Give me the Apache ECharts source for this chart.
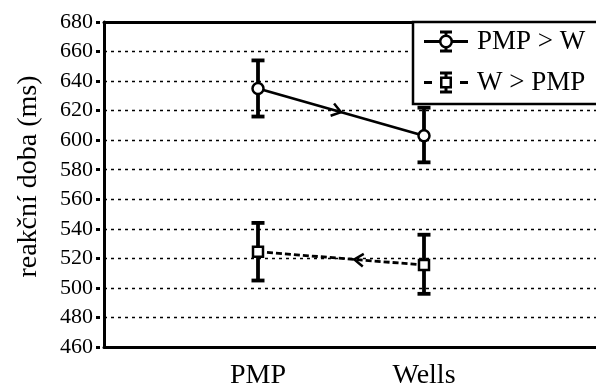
<!DOCTYPE html>
<html>
<head>
<meta charset="utf-8">
<script src="https://cdn.jsdelivr.net/npm/echarts@6/dist/echarts.min.js"></script>
<style>html,body{margin:0;padding:0;background:#fff}#c{width:596px;height:387px}</style>
</head>
<body>
<div id="c"></div>
<script>
// ---- data ----
var categories = ['PMP', 'Wells'];
var seriesNames = ['PMP > W', 'W > PMP'];
var pmpW = [635, 603];
var pmpWLow = [616, 585];
var pmpWHigh = [654, 622];
var wPmp = [524.5, 515.5];
var wPmpLow = [505, 496];
var wPmpHigh = [544, 536];
var yTicks = [460, 480, 500, 520, 540, 560, 580, 600, 620, 640, 660, 680];
var yTitle = 'reakční doba (ms)';

var FONT = 'Liberation Serif';
var catX = categories.map(function (c, i) { return i + 1; });

function pts(vals) { return vals.map(function (v, i) { return [catX[i], v]; }); }
function errs(lo, hi) { return lo.map(function (l, i) { return [catX[i], l, hi[i]]; }); }

var iconSolid = 'path://M0 9.5H16V12.5H0Z M28 9.5H44V12.5H28Z ' +
  'M15 11A7 7 0 1 1 29 11A7 7 0 1 1 15 11Z M17.5 11A4.5 4.5 0 1 0 26.5 11A4.5 4.5 0 1 0 17.5 11Z ' +
  'M16 0H28V3H16Z M20.5 2H23.5V4.5H20.5Z M16 19H28V22H16Z M20.5 17.5H23.5V20H20.5Z';
var iconDash = 'path://M0 9.5H8V12.5H0Z M36 9.5H44V12.5H36Z ' +
  'M16 5H28V17H16Z M18.5 7.5V14.5H25.5V7.5Z ' +
  'M16 0H28V3H16Z M20.5 2H23.5V5.5H20.5Z M16 19H28V22H16Z M20.5 16.5H23.5V20H20.5Z';

function errorBarRender(params, api) {
  var x = api.value(0);
  var lo = api.coord([x, api.value(1)]);
  var hi = api.coord([x, api.value(2)]);
  var hw = 6.5;
  var st = { stroke: '#000', lineWidth: 3.8, fill: null };
  return {
    type: 'group',
    children: [
      { type: 'line', shape: { x1: lo[0], y1: lo[1], x2: hi[0], y2: hi[1] }, style: st },
      { type: 'line', shape: { x1: hi[0] - hw, y1: hi[1], x2: hi[0] + hw, y2: hi[1] }, style: st },
      { type: 'line', shape: { x1: lo[0] - hw, y1: lo[1], x2: lo[0] + hw, y2: lo[1] }, style: st }
    ]
  };
}

function makeArrowRender(t) {
  return function (params, api) {
    var a = api.coord([api.value(0), api.value(1)]);
    var b = api.coord([api.value(2), api.value(3)]);
    var tip = [a[0] + (b[0] - a[0]) * t, a[1] + (b[1] - a[1]) * t];
    var dx = b[0] - a[0], dy = b[1] - a[1];
    var len = Math.sqrt(dx * dx + dy * dy);
    var ux = dx / len, uy = dy / len;
    var L = 11, ang = 35 * Math.PI / 180;
    function arm(s) {
      var c = Math.cos(s * ang), sn = Math.sin(s * ang);
      var rx = ux * c - uy * sn, ry = ux * sn + uy * c;
      return [tip[0] - rx * L, tip[1] - ry * L];
    }
    return {
      type: 'polyline',
      shape: { points: [arm(1), tip, arm(-1)] },
      style: { stroke: '#000', lineWidth: 2.5, fill: null }
    };
  };
}

var gridLeft = 104, gridWidth = 492;
var pxPerCat = 166;
var xMin = 1 - (258 - gridLeft) / pxPerCat;
var xMax = xMin + gridWidth / pxPerCat;

var chart = echarts.init(document.getElementById('c'), null, { renderer: 'canvas' });
chart.setOption({
  animation: false,
  backgroundColor: '#fff',
  textStyle: { fontFamily: FONT },
  grid: { left: gridLeft, top: 22, width: gridWidth, bottom: 40, containLabel: false, outerBoundsMode: 'none' },
  xAxis: [{
    type: 'value', min: xMin, max: xMax,
    axisLine: { lineStyle: { color: '#000', width: 3 } },
    axisTick: { show: false },
    splitLine: { show: false },
    axisLabel: {
      customValues: catX,
      formatter: function (v) { return categories[Math.round(v) - 1] || ''; },
      fontFamily: FONT, fontSize: 28, color: '#000', margin: 15
    }
  }, {
    type: 'value', min: xMin, max: xMax, position: 'top',
    axisLine: { lineStyle: { color: '#000', width: 3 } },
    axisTick: { show: false }, axisLabel: { show: false }, splitLine: { show: false }
  }],
  yAxis: {
    type: 'value', min: yTicks[0], max: yTicks[yTicks.length - 1], interval: 20,
    name: yTitle, nameLocation: 'middle', nameGap: 61,
    nameTextStyle: { fontFamily: FONT, fontSize: 28, color: '#000', padding: [0, 0, 0, 16] },
    axisLine: { show: true, lineStyle: { color: '#000', width: 3 } },
    axisTick: { show: true, length: 8, lineStyle: { color: '#000', width: 3, type: [4, 4], dashOffset: 4 } },
    axisLabel: { fontFamily: FONT, fontSize: 22, color: '#000', margin: 11 },
    splitLine: { show: true, lineStyle: { color: '#000', width: 1.3, type: [3, 4] } }
  },
  legend: {
    orient: 'vertical', left: 413, top: 22,
    backgroundColor: '#fff', borderColor: '#000', borderWidth: 2.5, borderRadius: 0,
    padding: [6, 60, 8, 11], itemGap: 14, itemWidth: 44, itemHeight: 24,
    textStyle: { fontFamily: FONT, fontSize: 27, color: '#000', padding: [0, 0, 0, 4] },
    itemStyle: { color: '#000', borderWidth: 0 },
    data: [
      { name: seriesNames[0], icon: iconSolid, itemStyle: { color: '#000', borderWidth: 0 } },
      { name: seriesNames[1], icon: iconDash, itemStyle: { color: '#000', borderWidth: 0 } }
    ]
  },
  series: [
    {
      type: 'custom', name: 'err1', renderItem: errorBarRender, data: errs(pmpWLow, pmpWHigh), z: 2
    },
    {
      type: 'custom', name: 'err2', renderItem: errorBarRender, data: errs(wPmpLow, wPmpHigh), z: 2
    },
    {
      type: 'custom', name: 'arr1', renderItem: makeArrowRender(0.5), z: 3,
      data: [[catX[0], pmpW[0], catX[1], pmpW[1]]]
    },
    {
      type: 'custom', name: 'arr2', renderItem: makeArrowRender(0.42), z: 3,
      data: [[catX[1], wPmp[1], catX[0], wPmp[0]]]
    },
    {
      type: 'line', name: seriesNames[0], data: pts(pmpW), z: 4,
      symbol: 'circle', symbolSize: 11,
      lineStyle: { color: '#000', width: 2.8, type: 'solid' },
      itemStyle: { color: '#fff', borderColor: '#000', borderWidth: 2.5 }
    },
    {
      type: 'line', name: seriesNames[1], data: pts(wPmp), z: 4,
      symbol: 'rect', symbolSize: 10,
      lineStyle: { color: '#000', width: 2.8, type: [6, 3] },
      itemStyle: { color: '#fff', borderColor: '#000', borderWidth: 2.5 }
    }
  ]
});
</script>
</body>
</html>
